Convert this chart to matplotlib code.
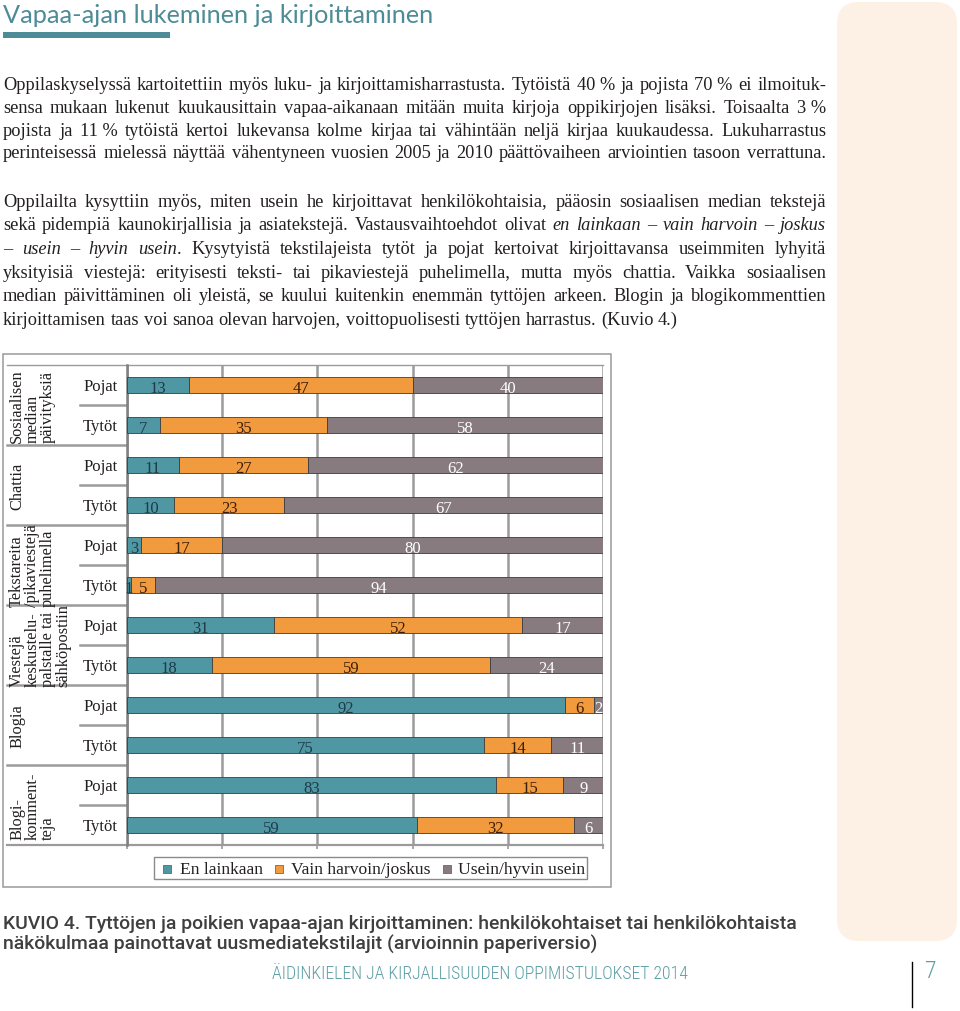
import matplotlib
matplotlib.use("Agg")
import matplotlib.pyplot as plt
from matplotlib.patches import Rectangle, FancyBboxPatch
from matplotlib.font_manager import FontProperties, fontManager
import numpy as np

W, H, DPI = 960, 1012, 100

# ---------------- data ----------------
categories = ["Sosiaalisen\nmedian\npäivityksiä", "Chattia",
              "Tekstareita\n/pikaviestejä\npuhelimella",
              "Viestejä\nkeskustelu-\npalstalle tai\nsähköpostiin",
              "Blogia", "Blogi-\nkomment-\nteja"]
groups = ["Pojat", "Tytöt"]
series = ["En lainkaan", "Vain harvoin/joskus", "Usein/hyvin usein"]
en_lainkaan = [13, 7, 11, 10, 3, 1, 31, 18, 92, 75, 83, 59]
vain_harvoin = [47, 35, 27, 23, 17, 5, 52, 59, 6, 14, 15, 32]
usein = [40, 58, 62, 67, 80, 94, 17, 24, 2, 11, 9, 6]
colors = ["#4f97a2", "#f19a3e", "#877b80"]
label_colors = ["#1d3b49", "#3a1e08", "#ffffff"]

title = "Vapaa-ajan lukeminen ja kirjoittaminen"
para1 = [
    "Oppilaskyselyssä kartoitettiin myös luku- ja kirjoittamisharrastusta. Tytöistä 40\u00a0% ja pojista 70\u00a0% ei ilmoituk-",
    "sensa mukaan lukenut kuukausittain vapaa-aikanaan mitään muita kirjoja oppikirjojen lisäksi. Toisaalta 3\u00a0%",
    "pojista ja 11\u00a0% tytöistä kertoi lukevansa kolme kirjaa tai vähintään neljä kirjaa kuukaudessa. Lukuharrastus",
    "perinteisessä mielessä näyttää vähentyneen vuosien 2005 ja 2010 päättövaiheen arviointien tasoon verrattuna.",
]
para2 = [
    "Oppilailta kysyttiin myös, miten usein he kirjoittavat henkilökohtaisia, pääosin sosiaalisen median tekstejä",
    "sekä pidempiä kaunokirjallisia ja asiatekstejä. Vastausvaihtoehdot olivat *en lainkaan – vain harvoin – joskus*",
    "*– usein – hyvin usein*. Kysytyistä tekstilajeista tytöt ja pojat kertoivat kirjoittavansa useimmiten lyhyitä",
    "yksityisiä viestejä: erityisesti teksti- tai pikaviestejä puhelimella, mutta myös chattia. Vaikka sosiaalisen",
    "median päivittäminen oli yleistä, se kuului kuitenkin enemmän tyttöjen arkeen. Blogin ja blogikommenttien",
    "kirjoittamisen taas voi sanoa olevan harvojen, voittopuolisesti tyttöjen harrastus. (Kuvio 4.)",
]
caption = ["KUVIO 4. Tyttöjen ja poikien vapaa-ajan kirjoittaminen: henkilökohtaiset tai henkilökohtaista",
           "näkökulmaa painottavat uusmediatekstilajit (arvioinnin paperiversio)"]
footer = "ÄIDINKIELEN JA KIRJALLISUUDEN OPPIMISTULOKSET 2014"
page_no = "7"

# ---------------- fonts ----------------
names = {f.name for f in fontManager.ttflist}
def pick(*c):
    for n in c:
        if n in names:
            return n
    return "DejaVu Sans"
SERIF = pick("Liberation Serif", "DejaVu Serif")
SANS = pick("Lato", "Open Sans", "DejaVu Sans")
CAP = pick("Roboto", "Open Sans", "DejaVu Sans")
COND = pick("Liberation Sans Narrow", "Roboto Condensed", "Roboto", "DejaVu Sans")

TEAL = "#4d8c97"
INK = "#231f20"

fig = plt.figure(figsize=(W / DPI, H / DPI), dpi=DPI)
renderer = fig.canvas.get_renderer()

def tw(s, fp):
    w, h, d = renderer.get_text_width_height_descent(s, fp, ismath=False)
    return w

def fit(s, fam, target, **kw):
    fp = FontProperties(family=fam, size=10, **kw)
    return 10 * target / tw(s, fp)

bg = fig.add_axes([0, 0, 1, 1])
bg.set_xlim(0, W)
bg.set_ylim(H, 0)
bg.axis("off")
bg.set_zorder(0)

# side panel
bg.add_patch(FancyBboxPatch((837, 3), 120, 939, boxstyle="round,pad=0,rounding_size=22",
                            fc="#fdf1e6", ec="none"))

# title
ts = fit(title, SANS, 430)
bg.text(3, 23, title, fontsize=ts, family=SANS, color=TEAL, va="baseline", ha="left")
bg.add_patch(Rectangle((3, 32.5), 167, 6, fc=TEAL, ec="none"))

# body text: largest size that lets every justified line keep normal spacing
X0, X1 = 3, 826
cands = [fit(l.replace("*", ""), SERIF, (X1 - X0) * 0.985) for l in para1 + para2[:-1]]
cands.append(fit(para2[-1], SERIF, 714))
body_size = min(cands)

def fpb(it):
    return FontProperties(family=SERIF, size=body_size, style="italic" if it else "normal")

state = {"it": False}
def draw_line(y, line, x0=X0, x1=X1, justify=True):
    words = line.split(" ")
    it = state["it"]
    wsegs = []
    for w in words:
        segs = []
        parts = w.split("*")
        for i, p in enumerate(parts):
            if i > 0:
                it = not it
            if p:
                segs.append((p, it))
        wsegs.append(segs)
    state["it"] = it
    widths = [sum(tw(p, fpb(i)) for p, i in s) for s in wsegs]
    if justify and len(words) > 1:
        gap = (x1 - x0 - sum(widths)) / (len(words) - 1)
    else:
        gap = tw("a a", fpb(False)) - tw("aa", fpb(False))
    x = x0
    for segs, wd in zip(wsegs, widths):
        xx = x
        for p, i in segs:
            bg.text(xx, y, p, fontproperties=fpb(i), color=INK, va="baseline", ha="left")
            xx += tw(p, fpb(i))
        x += wd + gap

for k, ln in enumerate(para1):
    draw_line(90 + 22.8 * k, ln)
for k, ln in enumerate(para2):
    draw_line(206.5 + 23.7 * k, ln, justify=(k < len(para2) - 1))

# ---------------- chart frame ----------------
bg.add_patch(Rectangle((3, 355), 608, 533, fc="white", ec="#9a9a9a", lw=1.1))

L, R, T, B = 126.7, 603.3, 366, 846
nrows = len(en_lainkaan)
rowh = (B - T) / nrows
GRID = "#9b9b9b"

bg.plot([7, R], [T, T], color=GRID, lw=1.0, zorder=2)
bg.plot([7, R], [B, B], color=GRID, lw=1.6, zorder=2)
for c in range(1, len(categories)):
    y = T + c * 2 * rowh
    bg.plot([7, L], [y, y], color=GRID, lw=1.8, zorder=2)
for c in range(len(categories)):
    y = T + (2 * c + 1) * rowh
    bg.plot([80, L], [y, y], color=GRID, lw=1.8, zorder=2)

FS = 12
for c, lab in enumerate(categories):
    yc = T + (2 * c + 1) * rowh
    bg.text(9, yc, lab, rotation=90, ha="left", va="center", multialignment="left",
            linespacing=0.95, fontsize=11.8, family=SERIF, color=INK)
for r in range(nrows):
    yc = T + (r + 0.5) * rowh
    bg.text(100.5, yc + 1, groups[r % 2], ha="center", va="center", fontsize=FS,
            family=SERIF, color=INK)

# ---------------- chart axes ----------------
ax = fig.add_axes([L / W, 1 - B / H, (R - L) / W, (B - T) / H])
ax.set_zorder(1)
ax.patch.set_alpha(0)
vals = np.array([en_lainkaan, vain_harvoin, usein], dtype=float)
shares = vals / vals.sum(axis=0) * 100
ypos = np.arange(nrows)
left = np.zeros(nrows)
for k in range(3):
    ax.barh(ypos, shares[k], left=left, height=0.4, color=colors[k],
            edgecolor="#3d3d3d", linewidth=0.6, zorder=3)
    for r in range(nrows):
        ax.text(left[r] + shares[k][r] / 2, r + 0.07, f"{int(vals[k][r])}", ha="center",
                va="center", fontsize=FS, family=SERIF, color=label_colors[k], zorder=4)
    left += shares[k]
ax.set_xlim(0, 100)
ax.set_ylim(nrows - 0.5, -0.5)
ax.set_xticks(range(0, 101, 20))
ax.set_yticks([])
ax.grid(axis="x", color=GRID, lw=1.8, zorder=0)
ax.set_axisbelow(True)
ax.tick_params(axis="x", length=3, color=GRID, width=1.2, labelbottom=False)
for s in ["top", "right", "bottom"]:
    ax.spines[s].set_visible(False)
ax.spines["left"].set_color("#808080")
ax.spines["left"].set_linewidth(1.8)

# ---------------- legend ----------------
bg.add_patch(Rectangle((154, 858), 433, 22, fc="white", ec="#8a8a8a", lw=1.0, zorder=2))
leg_sq = [163, 275, 443]
leg_tx = [180, 291, 458]
for k, name in enumerate(series):
    bg.add_patch(Rectangle((leg_sq[k], 865.5), 8, 8, fc=colors[k], ec="#555555", lw=0.5, zorder=3))
    bg.text(leg_tx[k], 870.5, name, ha="left", va="center", fontsize=12.6, family=SERIF,
            color=INK, zorder=3)

# ---------------- caption & footer ----------------
cs = fit(caption[0], CAP, 794, weight="medium")
for k, ln in enumerate(caption):
    bg.text(3, 929.5 + 20 * k, ln, fontsize=cs, family=CAP, weight="medium", color="#3f3f3f",
            va="baseline", ha="left")
fs = fit(footer, COND, 415, weight="light")
bg.text(479.5, 978.5, footer, fontsize=fs, family=COND, weight="light", color="#5b9ea5",
        va="baseline", ha="center")
bg.text(925, 978, page_no, fontsize=17, family=COND, weight="light", color="#5b9ea5",
        va="baseline", ha="left")
bg.plot([912, 912], [963, 1008], color="black", lw=1.0)

fig.savefig("out.png", dpi=DPI)
